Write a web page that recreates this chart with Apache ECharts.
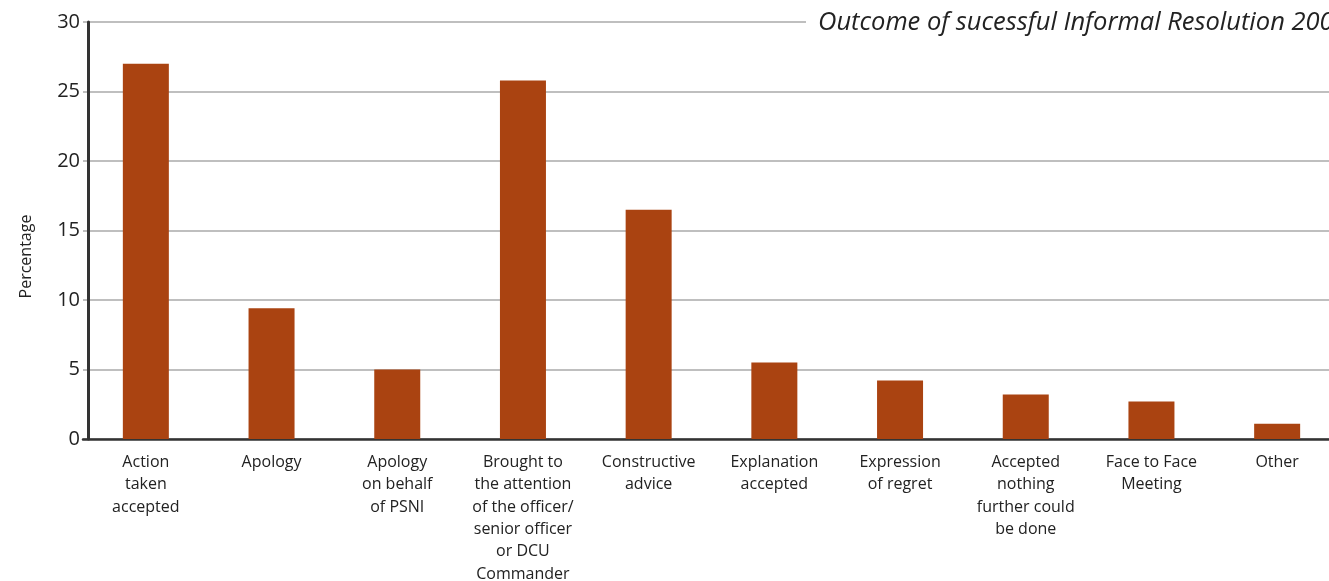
<!DOCTYPE html>
<html><head><meta charset="utf-8">
<script src="https://cdn.jsdelivr.net/npm/echarts@6/dist/echarts.min.js"></script>
<style>html,body{margin:0;padding:0;background:#fff}#c{width:1329px;height:581px}</style>
</head><body><div id="c"></div>
<script>
const categories = [
  "Action\ntaken\naccepted",
  "Apology",
  "Apology\non behalf\nof PSNI",
  "Brought to\nthe attention\nof the officer/\nsenior officer\nor DCU\nCommander",
  "Constructive\nadvice",
  "Explanation\naccepted",
  "Expression\nof regret",
  "Accepted\nnothing\nfurther could\nbe done",
  "Face to Face\nMeeting",
  "Other"
];
const percentages = [27.0, 9.4, 5.0, 25.8, 16.5, 5.5, 4.2, 3.2, 2.7, 1.1];
const titleText = "Outcome of sucessful Informal Resolution 2006/07";
const yAxisName = "Percentage";

const chart = echarts.init(document.getElementById('c'), null, {renderer: 'canvas'});
chart.setOption({
  animation: false,
  backgroundColor: '#fff',
  title: {
    text: titleText,
    left: 806, top: 8,
    padding: [2, 12, 2, 12],
    backgroundColor: '#fff',
    textStyle: {fontFamily: 'Open Sans', fontStyle: 'italic', fontWeight: 'normal', fontSize: 25.5, color: '#222'}
  },
  grid: {left: 83, right: -11, top: 22, bottom: 142, containLabel: false, outerBoundsMode: 'none'},
  xAxis: {
    type: 'category',
    data: categories,
    axisLine: {show: true, lineStyle: {color: '#333', width: 2.5}},
    axisTick: {show: false},
    axisLabel: {interval: 0, margin: 12, fontFamily: 'Open Sans', fontSize: 16, lineHeight: 22.4, color: '#222'}
  },
  yAxis: {
    type: 'value', min: 0, max: 30, interval: 5,
    offset: -5,
    name: yAxisName, nameLocation: 'middle', nameRotate: 90, nameGap: 54,
    nameTextStyle: {fontFamily: 'Open Sans', fontSize: 16, color: '#222', padding: [0, 52, 0, 0]},
    axisLine: {show: true, lineStyle: {color: '#333', width: 3}},
    axisTick: {show: false},
    axisLabel: {margin: 8, fontFamily: 'Open Sans', fontSize: 20, color: '#222'},
    splitLine: {show: true, lineStyle: {color: '#aaa', width: 1.5}}
  },
  series: [{
    type: 'bar',
    data: percentages,
    barWidth: 46,
    itemStyle: {color: '#aa4311'}
  }]
});
</script></body></html>
